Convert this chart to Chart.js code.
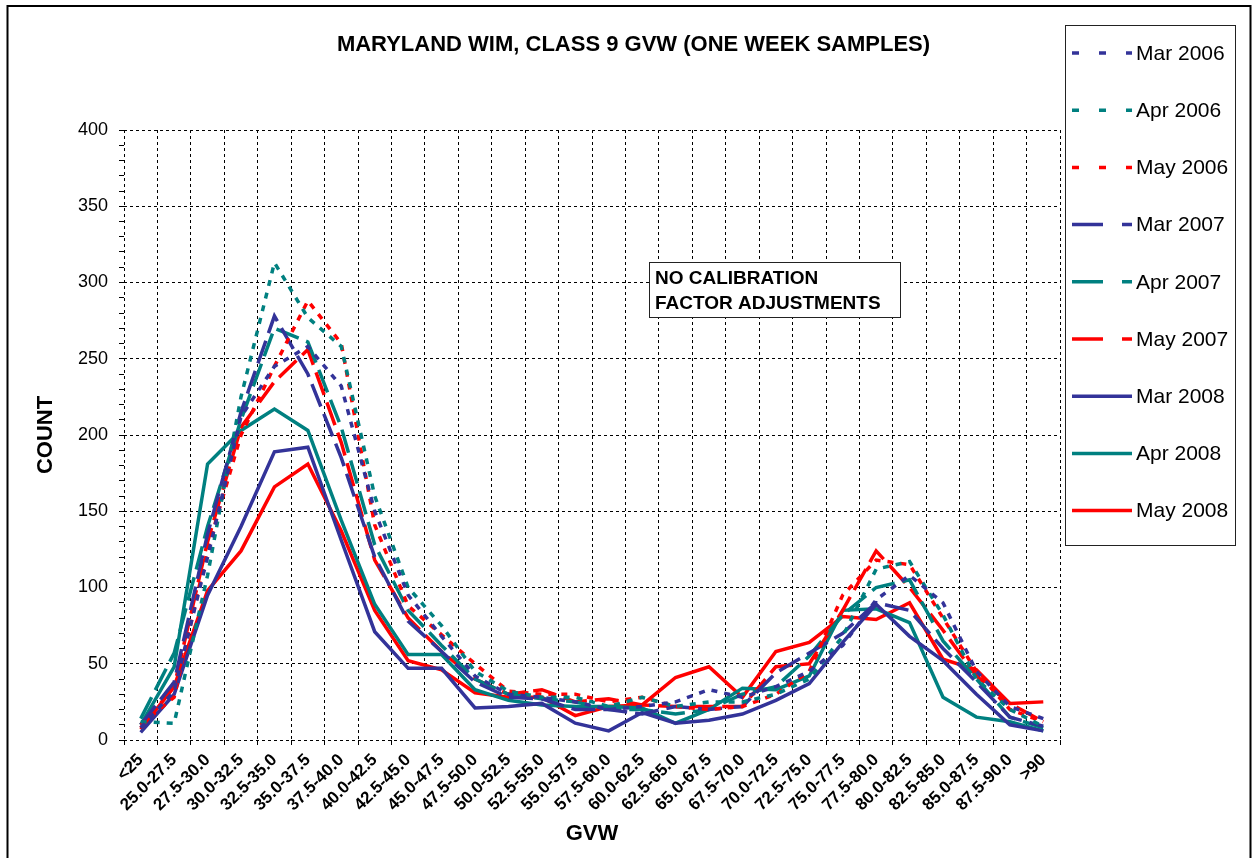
<!DOCTYPE html>
<html>
<head>
<meta charset="utf-8">
<title>Maryland WIM, Class 9 GVW</title>
<script src="https://cdn.jsdelivr.net/npm/chart.js@4.4.1/dist/chart.umd.min.js"></script>
<style>
  html, body { margin: 0; padding: 0; background: #fff; }
</style>
</head>
<body>
<canvas id="chart" width="1253" height="858"></canvas>
<script>
// GVW bins (kips) on the category axis
const gvwBins = ['<25', '25.0-27.5', '27.5-30.0', '30.0-32.5', '32.5-35.0', '35.0-37.5', '37.5-40.0',
  '40.0-42.5', '42.5-45.0', '45.0-47.5', '47.5-50.0', '50.0-52.5', '52.5-55.0', '55.0-57.5',
  '57.5-60.0', '60.0-62.5', '62.5-65.0', '65.0-67.5', '67.5-70.0', '70.0-72.5', '72.5-75.0',
  '75.0-77.5', '77.5-80.0', '80.0-82.5', '82.5-85.0', '85.0-87.5', '87.5-90.0', '>90'];

// counts per bin, one week samples
const mar2006 = [8, 32, 120, 212, 245, 258, 232, 150, 95, 68, 42, 30, 28, 25, 20, 22, 25, 33, 28, 35, 45, 62, 92, 108, 90, 45, 22, 14];
const apr2006 = [12, 11, 108, 225, 313, 277, 258, 160, 100, 75, 45, 32, 28, 28, 22, 28, 22, 25, 25, 30, 40, 68, 112, 117, 82, 40, 20, 9];
const may2006 = [10, 28, 125, 200, 245, 288, 260, 141, 88, 69, 50, 32, 30, 30, 25, 28, 22, 20, 22, 30, 45, 95, 118, 115, 80, 45, 20, 12];
const mar2007 = [10, 38, 135, 215, 278, 240, 185, 120, 78, 58, 38, 28, 27, 20, 20, 17, 22, 20, 22, 44, 57, 70, 90, 85, 60, 38, 15, 9];
const apr2007 = [14, 57, 140, 210, 270, 261, 205, 128, 85, 62, 40, 30, 27, 25, 20, 20, 17, 20, 30, 35, 55, 82, 100, 105, 65, 40, 15, 8];
const may2007 = [8, 35, 130, 205, 235, 256, 195, 118, 80, 58, 40, 30, 33, 25, 27, 23, 22, 22, 22, 48, 50, 85, 124, 100, 72, 42, 24, 12];
const mar2008 = [5, 30, 95, 140, 189, 192, 131, 71, 47, 47, 21, 22, 24, 11, 6, 18, 11, 13, 17, 26, 37, 64, 89, 68, 52, 30, 10, 6];
const apr2008 = [10, 48, 181, 203, 217, 203, 144, 89, 56, 56, 33, 26, 23, 22, 22, 21, 11, 20, 34, 33, 42, 85, 86, 77, 28, 15, 12, 6];
const may2008 = [7, 35, 98, 124, 166, 181, 137, 85, 52, 46, 31, 28, 28, 16, 22, 23, 41, 48, 28, 58, 64, 81, 79, 90, 53, 46, 24, 25];

const FONT = "'Liberation Sans', Arial, sans-serif";
const BLUE = '#333399';
const TEAL = '#008080';
const RED = '#ff0000';

// line styles: 2006 short dashes, 2007 long dashes, 2008 solid
const DOTTED = { plot: [6, 7], legend: [7, 20] };
const DASHED = { plot: [24, 8], legend: [31, 19] };
const SOLID = { plot: [], legend: [] };

function series(label, data, color, style) {
  return {
    label,
    data,
    borderColor: color,
    backgroundColor: color,
    borderWidth: 3.5,
    borderDash: style.plot,
    legendDash: style.legend,
    pointRadius: 0,
    tension: 0,
    fill: false,
  };
}

// legend box on the right, Excel style
const sideLegend = {
  id: 'sideLegend',
  afterDraw(chart) {
    const { ctx, chartArea } = chart;
    const left = chartArea.right + 5;
    const top = 25;
    ctx.save();
    ctx.strokeStyle = '#222';
    ctx.lineWidth = 1;
    ctx.strokeRect(left + 0.5, top + 0.5, 170, 520);
    chart.data.datasets.forEach((ds, i) => {
      const y = top + 28 + i * 57.2;
      ctx.beginPath();
      ctx.setLineDash(ds.legendDash);
      ctx.strokeStyle = ds.borderColor;
      ctx.lineWidth = 3.5;
      ctx.moveTo(left + 7, y);
      ctx.lineTo(left + 67, y);
      ctx.stroke();
      ctx.setLineDash([]);
      ctx.fillStyle = '#000';
      ctx.font = `21px ${FONT}`;
      ctx.textBaseline = 'middle';
      ctx.fillText(ds.label, left + 71, y + 1);
    });
    ctx.restore();
  },
};

// outer frame + the note box
const notes = {
  id: 'notes',
  afterDraw(chart) {
    const { ctx } = chart;
    ctx.save();
    ctx.strokeStyle = '#000';
    ctx.lineWidth = 2;
    ctx.strokeRect(7.5, 6, 1243, 880);
    ctx.lineWidth = 1;
    ctx.fillStyle = '#fff';
    ctx.fillRect(649, 262, 251, 56);
    ctx.strokeStyle = '#222';
    ctx.strokeRect(649.5, 262.5, 251, 55);
    ctx.fillStyle = '#000';
    ctx.font = `bold 19px ${FONT}`;
    ctx.textBaseline = 'alphabetic';
    ctx.fillText('NO CALIBRATION', 655, 283.5);
    ctx.fillText('FACTOR ADJUSTMENTS', 655, 308.5);
    ctx.restore();
  },
};

new Chart(document.getElementById('chart'), {
  type: 'line',
  data: {
    labels: gvwBins,
    datasets: [
      series('Mar 2006', mar2006, BLUE, DOTTED),
      series('Apr 2006', apr2006, TEAL, DOTTED),
      series('May 2006', may2006, RED, DOTTED),
      series('Mar 2007', mar2007, BLUE, DASHED),
      series('Apr 2007', apr2007, TEAL, DASHED),
      series('May 2007', may2007, RED, DASHED),
      series('Mar 2008', mar2008, BLUE, SOLID),
      series('Apr 2008', apr2008, TEAL, SOLID),
      series('May 2008', may2008, RED, SOLID),
    ],
  },
  options: {
    responsive: false,
    animation: false,
    layout: { padding: { left: 14, right: 0, top: 0, bottom: 0 } },
    plugins: {
      legend: { display: false },
      tooltip: { enabled: false },
      title: {
        display: true,
        text: 'MARYLAND WIM, CLASS 9 GVW (ONE WEEK SAMPLES)',
        color: '#000',
        font: { family: FONT, size: 22, weight: 'bold' },
        padding: { top: 32, bottom: 71.6 },
      },
    },
    scales: {
      x: {
        offset: true,
        grid: { offset: true, color: '#000', lineWidth: 1, tickLength: 5, tickColor: '#000' },
        border: { display: false, dash: [3, 3] },
        ticks: {
          color: '#000',
          font: { family: FONT, size: 17, weight: 'bold' },
          minRotation: 45,
          maxRotation: 45,
          autoSkip: false,
          padding: 5,
        },
        title: {
          display: true,
          text: 'GVW',
          color: '#000',
          font: { family: FONT, size: 22, weight: 'bold' },
          padding: { top: 0, bottom: 11 },
        },
        afterFit: (s) => { s.height = 118; },
      },
      y: {
        min: 0,
        max: 400,
        grid: {
          color: (c) => (c.tick && c.tick.value % 50 === 0 ? '#000' : 'rgba(0,0,0,0)'),
          lineWidth: 1,
          tickLength: 5,
          tickColor: '#000',
        },
        border: { display: false, dash: [3, 3] },
        ticks: {
          stepSize: 10,
          autoSkip: false,
          color: '#000',
          padding: 11,
          font: { family: FONT, size: 18 },
          callback: (v) => (v % 50 === 0 ? v : ''),
        },
        title: {
          display: true,
          text: 'COUNT',
          color: '#000',
          font: { family: FONT, size: 22, weight: 'bold' },
          padding: { top: 19, bottom: 0 },
        },
        afterFit: (s) => { s.width = 110; },
      },
      // empty axis that keeps room for the legend box
      legendRoom: {
        type: 'linear',
        position: 'right',
        grid: { display: false },
        border: { display: false },
        ticks: { display: false },
        afterFit: (s) => { s.width = 193; },
      },
    },
  },
  plugins: [notes, sideLegend],
});
</script>
</body>
</html>
